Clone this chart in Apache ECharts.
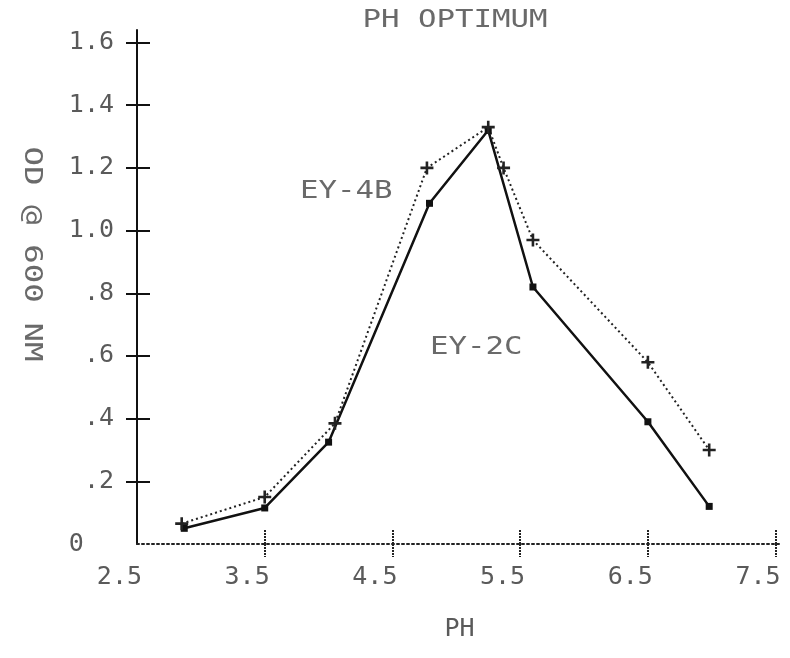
<!DOCTYPE html>
<html>
<head>
<meta charset="utf-8">
<script src="https://cdn.jsdelivr.net/npm/echarts@6/dist/echarts.min.js"></script>
<style>
html,body{margin:0;padding:0;background:#fff;}
#chart{width:790px;height:658px;}
</style>
</head>
<body>
<div id="chart"></div>
<script>
// ---- data ----
const titleText = 'PH OPTIMUM';
const xAxisTitle = 'PH';
const yAxisTitle = 'OD @ 600 NM';
const xTicks = [2.5, 3.5, 4.5, 5.5, 6.5, 7.5];
const yTicks = [0, 0.2, 0.4, 0.6, 0.8, 1.0, 1.2, 1.4, 1.6];
const seriesNames = ['EY-2C', 'EY-4B'];
// EY-2C (solid line, square markers)
const ey2cPH = [2.87, 3.5, 4.0, 4.79, 5.25, 5.6, 6.5, 6.98];
const ey2cOD = [0.05, 0.115, 0.325, 1.087, 1.32, 0.82, 0.39, 0.12];
// EY-4B (dotted line, plus markers)
const ey4bPH = [2.85, 3.5, 4.05, 4.77, 5.25, 5.37, 5.6, 6.5, 6.98];
const ey4bOD = [0.065, 0.15, 0.385, 1.2, 1.33, 1.2, 0.97, 0.58, 0.3];

const FONT = '"DejaVu Sans Mono", "Liberation Mono", monospace';
const TXT = '#5a5a5a';
const TXT_SCALED = '#6a6a6a';
const FS = 25;
const chart = echarts.init(document.getElementById('chart'), null, {renderer: 'canvas'});

const zip = (xs, ys) => xs.map((x, i) => [x, ys[i]]);
const plusPath = 'path://M4,0h2v4h4v2h-4v4h-2v-4h-4v-2h4z';
const xInnerTicks = xTicks.slice(1);

const baseX = {
  type: 'value', min: xTicks[0], max: 7.55,
  position: 'bottom', splitLine: {show: false}
};
const baseY = {
  type: 'value', min: yTicks[0], max: 1.64,
  position: 'left', splitLine: {show: false}
};

chart.setOption({
  backgroundColor: '#fff',
  animation: false,
  grid: {left: 137, right: 8, top: 30, bottom: 114},
  xAxis: [
    Object.assign({}, baseX, {
      name: xAxisTitle, nameLocation: 'middle', nameGap: 73,
      nameTextStyle: {fontFamily: FONT, fontSize: FS, color: TXT, verticalAlign: 'top'},
      axisLine: {show: true, lineStyle: {color: '#222', width: 2, type: [2, 3]}},
      axisTick: {show: true, inside: false, length: 13, customValues: xInnerTicks,
        lineStyle: {color: '#222', width: 2, type: [2, 1]}},
      axisLabel: {
        show: true, margin: 21, align: 'right', padding: [0, -5, 0, 0],
        customValues: xTicks,
        fontFamily: FONT, fontSize: FS, color: TXT,
        formatter: v => v.toFixed(1)
      }
    }),
    Object.assign({}, baseX, {
      axisLine: {show: false},
      axisTick: {show: true, inside: true, length: 14, customValues: xInnerTicks,
        lineStyle: {color: '#222', width: 2, type: [2, 1]}},
      axisLabel: {show: false}
    })
  ],
  yAxis: [
    Object.assign({}, baseY, {
      axisLine: {show: true, lineStyle: {color: '#111', width: 2}},
      axisTick: {show: true, inside: false, length: 11, customValues: yTicks.slice(1),
        lineStyle: {color: '#111', width: 2}},
      axisLabel: {
        show: true, margin: 23, align: 'right', customValues: yTicks,
        fontFamily: FONT, fontSize: FS, color: TXT,
        formatter: v => v === 0 ? '0  ' : v.toFixed(1).replace(/^0/, '')
      }
    }),
    Object.assign({}, baseY, {
      axisLine: {show: false},
      axisTick: {show: true, inside: true, length: 13, customValues: yTicks.slice(1),
        lineStyle: {color: '#111', width: 2}},
      axisLabel: {show: false}
    })
  ],
  graphic: [
    {
      type: 'text', x: 455, y: 8, scaleX: 1.23,
      style: {text: titleText, fontFamily: FONT, fontSize: FS, fill: TXT_SCALED, align: 'center', verticalAlign: 'top'}
    },
    {
      type: 'text', x: 31, y: 254, rotation: -Math.PI / 2, scaleX: 1.3,
      style: {text: yAxisTitle, fontFamily: FONT, fontSize: FS, fill: TXT_SCALED, align: 'center', verticalAlign: 'middle'}
    },
    {
      type: 'text', x: 300, y: 179, scaleX: 1.23,
      style: {text: seriesNames[1], fontFamily: FONT, fontSize: FS, fill: TXT_SCALED, align: 'left', verticalAlign: 'top'}
    },
    {
      type: 'text', x: 430, y: 335, scaleX: 1.23,
      style: {text: seriesNames[0], fontFamily: FONT, fontSize: FS, fill: TXT_SCALED, align: 'left', verticalAlign: 'top'}
    }
  ],
  series: [
    {
      name: seriesNames[0], type: 'line', xAxisIndex: 0, yAxisIndex: 0,
      data: zip(ey2cPH, ey2cOD),
      symbol: 'rect', symbolSize: 7, showAllSymbol: true,
      lineStyle: {color: '#111', width: 2.5},
      itemStyle: {color: '#111'}
    },
    {
      name: seriesNames[1], type: 'line', xAxisIndex: 0, yAxisIndex: 0,
      data: zip(ey4bPH, ey4bOD),
      symbol: plusPath, symbolSize: 13, showAllSymbol: true,
      lineStyle: {color: '#222', width: 2, type: [2, 3]},
      itemStyle: {color: '#222'}
    }
  ]
});
</script>
</body>
</html>
